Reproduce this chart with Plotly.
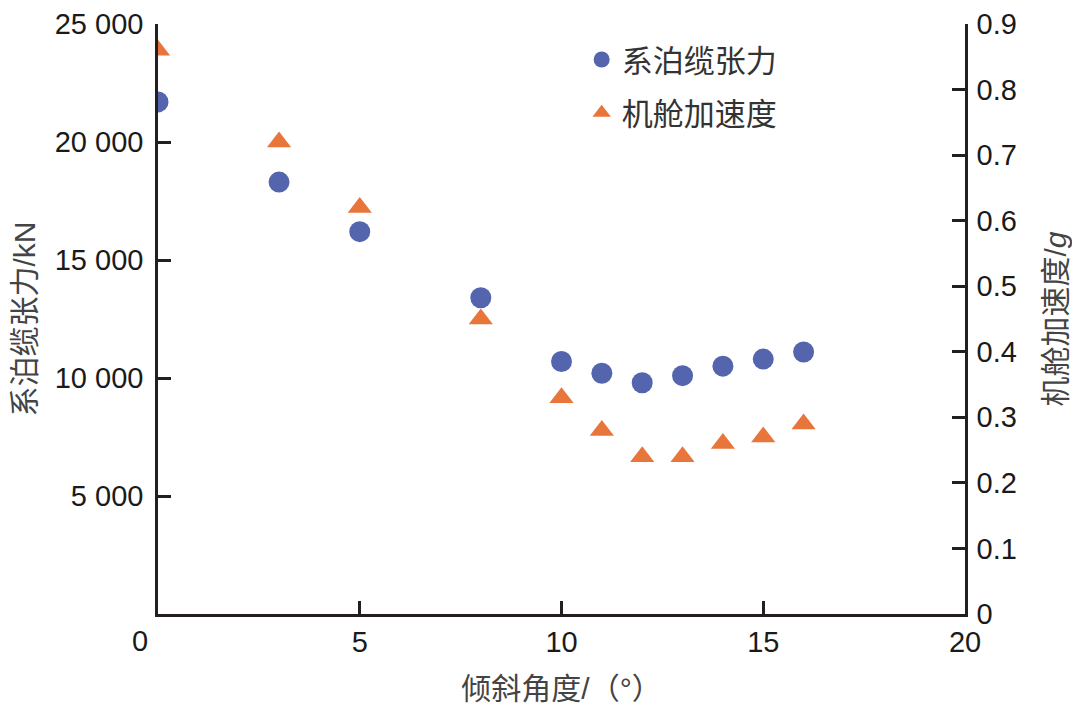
import plotly.graph_objects as go

# --- Data ---
angle = [0, 3, 5, 8, 10, 11, 12, 13, 14, 15, 16]
tension_kn = [21700, 18300, 16200, 13400, 10700, 10200, 9800, 10100, 10500, 10800, 11100]
accel_g = [0.86, 0.72, 0.62, 0.45, 0.33, 0.28, 0.24, 0.24, 0.26, 0.27, 0.29]

x_ticks = [5, 10, 15, 20]
y_ticks = [5000, 10000, 15000, 20000, 25000]
y2_ticks = [0, 0.1, 0.2, 0.3, 0.4, 0.5, 0.6, 0.7, 0.8, 0.9]

BLUE = '#5465AE'
ORANGE = '#E8763A'
AXIS = '#231f20'
FONT = 'Liberation Sans, Arial, Noto Sans CJK SC'

fig = go.Figure()

fig.add_trace(go.Scatter(
    x=angle, y=tension_kn, mode='markers', name='系泊缆张力',
    marker=dict(symbol='circle', size=21, color=BLUE),
    legendgroup='a'
))
fig.add_trace(go.Scatter(
    x=angle, y=accel_g, mode='markers', name='机舱加速度', yaxis='y2',
    marker=dict(symbol='triangle-up', size=21, color=ORANGE),
    legendgroup='b'
))

axis_common = dict(
    showline=True, linecolor=AXIS, linewidth=2.5,
    ticks='inside', ticklen=13, tickwidth=2.5, tickcolor=AXIS,
    showgrid=False, zeroline=False, ticklabeloverflow='allow',
    automargin=False,
    tickfont=dict(size=29, color='#1a1a1a'),
)
title_font = dict(size=30, color='#444')

fig.update_layout(
    width=1080, height=716,
    paper_bgcolor='white', plot_bgcolor='white',
    font=dict(family=FONT, color='#333'),
    separators='. ',
    # page body adds ~8px offset, margins compensate
    margin=dict(l=150, r=123, t=16, b=110),
    xaxis=dict(
        range=[0, 20], tickvals=x_ticks, **axis_common,
        title=dict(text='倾斜角度/（°）', font=title_font, standoff=22),
    ),
    yaxis=dict(
        range=[0, 25000], tickvals=y_ticks, tickformat=',d', ticklabelstandoff=6,
        **axis_common,
        title=dict(text='系泊缆张力/kN', font=title_font, standoff=14),
    ),
    yaxis2=dict(
        range=[0, 0.9], tickvals=y2_ticks, overlaying='y', side='right',
        ticklabelstandoff=3, **axis_common,
        title=dict(text='机舱加速度/<i>g</i>', font=title_font, standoff=30),
    ),
    legend=dict(
        x=0.525, y=0.985, xanchor='left', yanchor='top',
        font=dict(size=31, color='#333'),
        bgcolor='rgba(0,0,0,0)', tracegroupgap=10, itemsizing='trace',
    ),
    showlegend=True,
)

# corner "0" label sits left of the axis origin
fig.add_annotation(
    text='0', x=-0.022, y=-0.045, xref='paper', yref='paper',
    xanchor='center', yanchor='middle',
    showarrow=False, font=dict(size=29, color='#1a1a1a')
)

fig.write_html('out.html')
